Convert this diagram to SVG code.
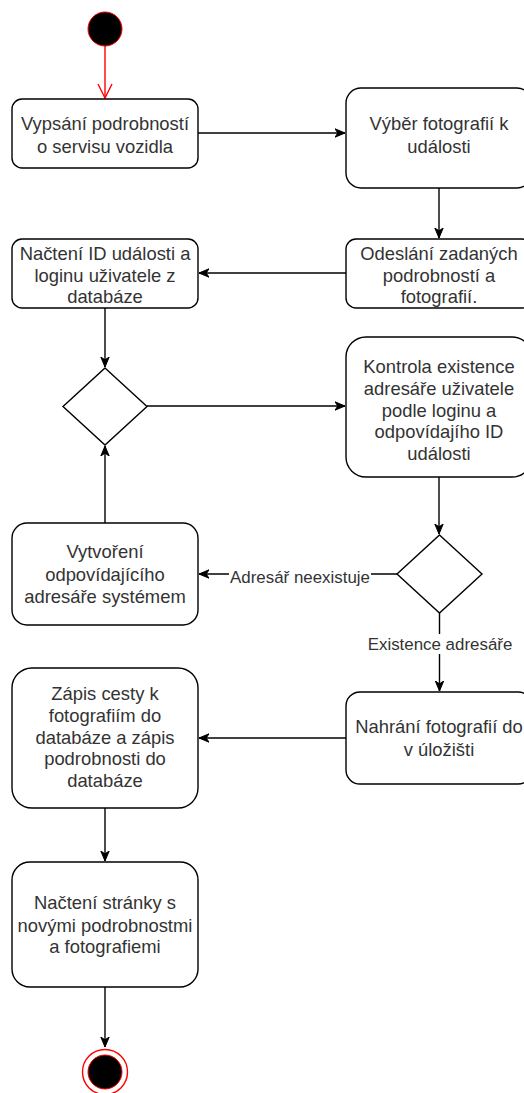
<svg xmlns="http://www.w3.org/2000/svg" width="524" height="1093" viewBox="0 0 524 1093">
  <style>
    .box { fill: #ffffff; stroke: #000000; stroke-width: 1.4; }
    .dec { fill: #ffffff; stroke: #000000; stroke-width: 1.4; }
    .txt { font-family: "Liberation Sans", Arial, sans-serif; font-size: 18.4px; fill: #333333; text-anchor: middle; }
    .lbl { font-family: "Liberation Sans", Arial, sans-serif; font-size: 16.9px; fill: #333333; text-anchor: middle; }
    .edge { fill: none; stroke: #000000; stroke-width: 1.4; }
    .edge-red { fill: none; stroke: #ff0000; stroke-width: 1.4; }
  </style>
  <defs>
    <marker id="arrow" markerUnits="userSpaceOnUse" markerWidth="12" markerHeight="10" refX="10" refY="5" orient="auto">
      <path d="M0,0.8 L10,5 L0,9.2 L2.8,5 Z" fill="#000000" stroke="#000000" stroke-width="1"/>
    </marker>
    <marker id="open-red" markerUnits="userSpaceOnUse" markerWidth="20" markerHeight="20" refX="15" refY="10" orient="auto">
      <path d="M1,3 L15,10 L1,17" fill="none" stroke="#ff0000" stroke-width="1.4"/>
    </marker>
  </defs>

  <rect width="524" height="1093" fill="#ffffff"/>

  <!-- connectors -->
  <g id="connectors">
    <path class="edge-red" d="M105,46 L105,98" marker-end="url(#open-red)"/>
    <path class="edge" d="M198,133 L345,133" marker-end="url(#arrow)"/>
    <path class="edge" d="M439,188 L439,238" marker-end="url(#arrow)"/>
    <path class="edge" d="M346,273 L199,273" marker-end="url(#arrow)"/>
    <path class="edge" d="M105,308 L105,367" marker-end="url(#arrow)"/>
    <path class="edge" d="M147,406 L345,406" marker-end="url(#arrow)"/>
    <path class="edge" d="M439,477 L439,534" marker-end="url(#arrow)"/>
    <path class="edge" d="M397,574 L199,574" marker-end="url(#arrow)"/>
    <path class="edge" d="M105,523 L105,446" marker-end="url(#arrow)"/>
    <path class="edge" d="M439.5,613 L439.5,691" marker-end="url(#arrow)"/>
    <path class="edge" d="M346,738 L199,738" marker-end="url(#arrow)"/>
    <path class="edge" d="M105,808 L105,861" marker-end="url(#arrow)"/>
    <path class="edge" d="M105,987 L105,1047" marker-end="url(#arrow)"/>
    <!-- edge labels -->
    <rect x="229" y="566" width="142" height="20" fill="#ffffff"/>
    <text class="lbl" x="300" y="583">Adresář neexistuje</text>
    <rect x="366" y="634" width="148" height="20" fill="#ffffff"/>
    <text class="lbl" x="440" y="650">Existence adresáře</text>
  </g>

  <!-- initial state -->
  <g id="start">
    <circle cx="105" cy="29" r="17" fill="#000000" stroke="#ff0000" stroke-width="1"/>
  </g>

  <g id="vypsani">
    <rect class="box" x="12" y="99" width="186" height="69" rx="10" ry="10"/>
    <text class="txt" x="105" y="129.5">Vypsání podrobností</text>
    <text class="txt" x="105" y="152.5">o servisu vozidla</text>
  </g>

  <g id="vyber">
    <rect class="box" x="346" y="88" width="186" height="100" rx="15" ry="15"/>
    <text class="txt" x="439" y="129.5">Výběr fotografií k</text>
    <text class="txt" x="439" y="152.5">události</text>
  </g>

  <g id="odeslani">
    <rect class="box" x="346" y="239" width="186" height="69" rx="10" ry="10"/>
    <text class="txt" x="439" y="260">Odeslání zadaných</text>
    <text class="txt" x="439" y="281.5">podrobností a</text>
    <text class="txt" x="439" y="303">fotografií.</text>
  </g>

  <g id="nacteni-id">
    <rect class="box" x="12" y="239" width="186" height="69" rx="10" ry="10"/>
    <text class="txt" x="105" y="260">Načtení ID události a</text>
    <text class="txt" x="105" y="281.5">loginu uživatele z</text>
    <text class="txt" x="105" y="303">databáze</text>
  </g>

  <g id="merge">
    <polygon class="dec" points="105,368 147,406.5 105,445 63,406.5"/>
  </g>

  <g id="kontrola">
    <rect class="box" x="346" y="337" width="186" height="140" rx="20" ry="20"/>
    <text class="txt" x="439" y="373">Kontrola existence</text>
    <text class="txt" x="439" y="395">adresáře uživatele</text>
    <text class="txt" x="439" y="416.5">podle loginu a</text>
    <text class="txt" x="439" y="438">odpovídajího ID</text>
    <text class="txt" x="439" y="460">události</text>
  </g>

  <g id="decision">
    <polygon class="dec" points="439.5,535 482,574 439.5,613 397,574"/>
  </g>

  <g id="vytvoreni">
    <rect class="box" x="12" y="523" width="186" height="102" rx="15" ry="15"/>
    <text class="txt" x="105" y="558">Vytvoření</text>
    <text class="txt" x="105" y="580.5">odpovídajícího</text>
    <text class="txt" x="105" y="603">adresáře systémem</text>
  </g>

  <g id="nahrani">
    <rect class="box" x="346" y="692" width="186" height="92" rx="14" ry="14"/>
    <text class="txt" x="439" y="733">Nahrání fotografií do</text>
    <text class="txt" x="439" y="755.5">v úložišti</text>
  </g>

  <g id="zapis">
    <rect class="box" x="12" y="668" width="186" height="140" rx="20" ry="20"/>
    <text class="txt" x="105" y="700">Zápis cesty k</text>
    <text class="txt" x="105" y="721.5">fotografiím do</text>
    <text class="txt" x="105" y="743.5">databáze a zápis</text>
    <text class="txt" x="105" y="765">podrobnosti do</text>
    <text class="txt" x="105" y="786.5">databáze</text>
  </g>

  <g id="nacteni-stranky">
    <rect class="box" x="12" y="862" width="186" height="125" rx="18" ry="18"/>
    <text class="txt" x="105" y="909">Načtení stránky s</text>
    <text class="txt" x="105" y="931.5">novými podrobnostmi</text>
    <text class="txt" x="105" y="953">a fotografiemi</text>
  </g>

  <!-- final state -->
  <g id="end">
    <circle cx="105" cy="1072" r="22.5" fill="#ffffff" stroke="#ff0000" stroke-width="1.4"/>
    <circle cx="105" cy="1072" r="17" fill="#000000" stroke="#ff0000" stroke-width="1"/>
  </g>
</svg>
